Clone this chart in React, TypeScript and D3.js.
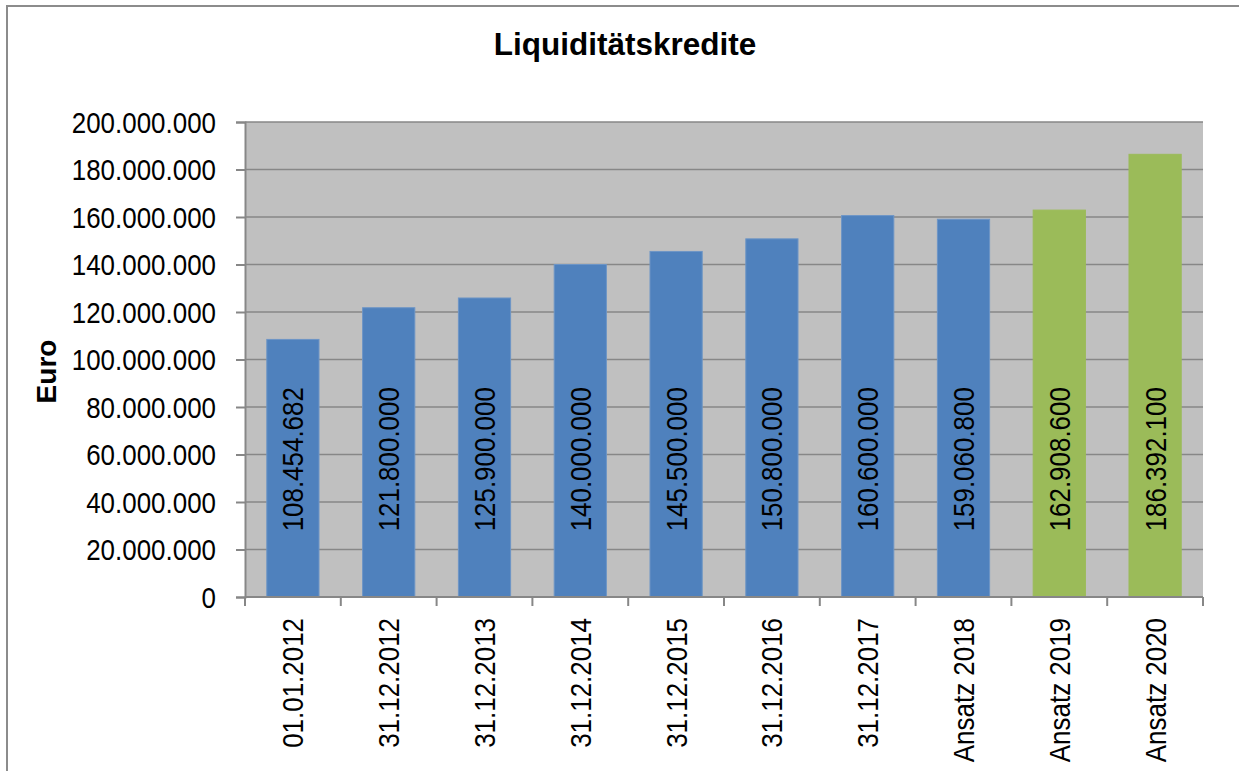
import React, { useEffect, useRef } from 'react';
import * as d3 from 'd3';

// Liquiditätskredite - Ist-Stände und Ansätze

const categories = [
  '01.01.2012',
  '31.12.2012',
  '31.12.2013',
  '31.12.2014',
  '31.12.2015',
  '31.12.2016',
  '31.12.2017',
  'Ansatz 2018',
  'Ansatz 2019',
  'Ansatz 2020',
];

const values = [
  108454682, 121800000, 125900000, 140000000, 145500000,
  150800000, 160600000, 159060800, 162908600, 186392100,
];

// these two bars are drawn green in the original
const highlighted = ['Ansatz 2019', 'Ansatz 2020'];

const yTicks = [0, 20000000, 40000000, 60000000, 80000000, 100000000, 120000000, 140000000, 160000000, 180000000, 200000000];

// no narrow font installed, so squeeze Liberation Sans horizontally
const FONT = '"Liberation Sans", Arial, sans-serif';
const SQUEEZE = 0.865;

const fmt = (v: number) => d3.format(',')(v).replace(/,/g, '.');

const App = () => {
  const svgRef = useRef<SVGSVGElement>(null);

  useEffect(() => {
    const width = 1239;
    const height = 771;
    const margin = { top: 122, right: 36, bottom: 174, left: 245 };

    const svg = d3.select(svgRef.current);
    svg.selectAll('*').remove();

    // outer frame
    svg.append('rect')
      .attr('x', 7)
      .attr('y', 6)
      .attr('width', width + 20)
      .attr('height', height + 20)
      .attr('fill', '#fff')
      .attr('stroke', '#8c8c8c')
      .attr('stroke-width', 2);

    const x = d3.scaleBand()
      .domain(categories)
      .range([margin.left, width - margin.right])
      .paddingInner(0.455)
      .paddingOuter(0.2275);

    const y = d3.scaleLinear()
      .domain([0, 200000000])
      .range([height - margin.bottom, margin.top]);

    // plot area
    svg.append('rect')
      .attr('x', margin.left)
      .attr('y', margin.top)
      .attr('width', width - margin.right - margin.left)
      .attr('height', height - margin.bottom - margin.top)
      .attr('fill', '#c0c0c0');

    // gridlines
    svg.append('g')
      .selectAll('line')
      .data(yTicks.slice(1))
      .enter()
      .append('line')
      .attr('x1', margin.left)
      .attr('x2', width - margin.right)
      .attr('y1', d => y(d))
      .attr('y2', d => y(d))
      .attr('stroke', '#878787')
      .attr('stroke-width', 1.5);

    // bars
    svg.append('g')
      .selectAll('rect')
      .data(values)
      .enter()
      .append('rect')
      .attr('x', (_, i) => x(categories[i])!)
      .attr('y', d => y(d))
      .attr('width', x.bandwidth())
      .attr('height', d => y(0) - y(d))
      .attr('fill', (_, i) => (highlighted.includes(categories[i]) ? '#9bbb59' : '#4f81bd'))
      .attr('stroke', (_, i) => (highlighted.includes(categories[i]) ? '#9bbb59' : '#6d95c6'))
      .attr('stroke-width', 1);

    // value labels inside bars
    svg.append('g')
      .selectAll('text')
      .data(values)
      .enter()
      .append('text')
      .attr('transform', (_, i) => `translate(${x(categories[i])! + x.bandwidth() / 2}, ${y(58000000)}) rotate(-90) scale(${SQUEEZE}, 1)`)
      .attr('text-anchor', 'middle')
      .attr('dy', '0.35em')
      .attr('font-family', FONT)
      .attr('font-size', 30)
      .attr('fill', '#000')
      .text(d => fmt(d));

    // y axis
    const yAxis = svg.append('g')
      .attr('transform', `translate(${margin.left}, 0)`)
      .call(d3.axisLeft(y).tickValues(yTicks).tickSize(9).tickFormat(() => ''));
    yAxis.select('.domain').attr('stroke', '#878787').attr('stroke-width', 2);
    yAxis.selectAll('.tick line').attr('stroke', '#878787').attr('stroke-width', 2);
    yAxis.selectAll('.tick text').remove();
    svg.append('g')
      .selectAll('text')
      .data(yTicks)
      .enter()
      .append('text')
      .attr('transform', d => `translate(216, ${y(d)}) scale(${SQUEEZE}, 1)`)
      .attr('text-anchor', 'end')
      .attr('dy', '0.36em')
      .attr('font-family', FONT)
      .attr('font-size', 30)
      .attr('fill', '#000')
      .text(d => fmt(d));

    // x axis
    const xAxisG = svg.append('g')
      .attr('transform', `translate(0, ${y(0)})`);
    xAxisG.append('line')
      .attr('x1', margin.left)
      .attr('x2', width - margin.right)
      .attr('stroke', '#878787')
      .attr('stroke-width', 2);
    const step = x.step();
    const bounds = d3.range(categories.length + 1).map(i => margin.left + i * step);
    xAxisG.selectAll('.xtick')
      .data(bounds)
      .enter()
      .append('line')
      .attr('x1', d => d)
      .attr('x2', d => d)
      .attr('y1', 0)
      .attr('y2', 9)
      .attr('stroke', '#878787')
      .attr('stroke-width', 2);
    xAxisG.selectAll('.xlabel')
      .data(categories)
      .enter()
      .append('text')
      .attr('transform', d => `translate(${x(d)! + x.bandwidth() / 2}, 21) rotate(-90) scale(${SQUEEZE}, 1)`)
      .attr('text-anchor', 'end')
      .attr('dy', '0.35em')
      .attr('font-family', FONT)
      .attr('font-size', 30)
      .attr('fill', '#000')
      .text(d => d);

    // title
    svg.append('text')
      .attr('x', 625)
      .attr('y', 55)
      .attr('text-anchor', 'middle')
      .attr('font-family', FONT)
      .attr('font-weight', 'bold')
      .attr('font-size', 31.5)
      .text('Liquiditätskredite');

    // y axis title
    svg.append('text')
      .attr('transform', `translate(56, ${y(100000000) + 12}) rotate(-90)`)
      .attr('text-anchor', 'middle')
      .attr('font-family', FONT)
      .attr('font-weight', 'bold')
      .attr('font-size', 28)
      .text('Euro');
  }, []);

  return (
    <svg
      ref={svgRef}
      width="1239"
      height="771"
      style={{ position: 'absolute', left: 0, top: 0 }}
    />
  );
};

export default App;
